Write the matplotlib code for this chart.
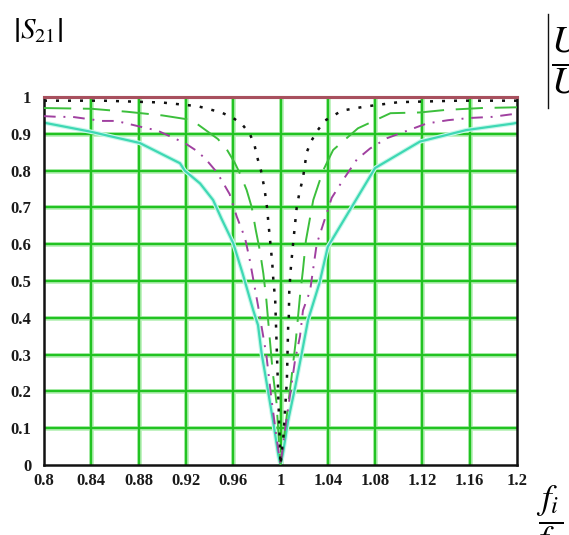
import matplotlib
matplotlib.use("Agg")
import matplotlib.pyplot as plt
from matplotlib.lines import Line2D

# ---- data ----
x_ticks = [0.8, 0.84, 0.88, 0.92, 0.96, 1.0, 1.04, 1.08, 1.12, 1.16, 1.2]
x_tick_labels = ["0.8", "0.84", "0.88", "0.92", "0.96", "1", "1.04", "1.08", "1.12", "1.16", "1.2"]
y_ticks = [0, 0.1, 0.2, 0.3, 0.4, 0.5, 0.6, 0.7, 0.8, 0.9, 1.0]
y_tick_labels = ["0", "0.1", "0.2", "0.3", "0.4", "0.5", "0.6", "0.7", "0.8", "0.9", "1"]

ref_f = [0.8, 1.2]
ref_v = [1.0, 1.0]

dotted_f = [0.80, 0.85, 0.90, 0.93, 0.95, 0.96, 0.968, 0.974, 0.978, 0.980, 0.9835, 0.9865,
            0.9886, 0.990, 0.9915, 0.993, 0.994, 0.9955, 0.996, 0.9965, 0.997, 0.998, 0.999,
            1.000, 1.0025, 1.0054, 1.0065, 1.0070, 1.0074, 1.0086, 1.0103, 1.0137, 1.016,
            1.019, 1.0222, 1.026, 1.0306, 1.0376, 1.052, 1.0715, 1.10, 1.15, 1.20]
dotted_v = [0.99, 0.99, 0.985, 0.975, 0.958, 0.943, 0.924, 0.90, 0.87, 0.84, 0.80, 0.75,
            0.70, 0.65, 0.60, 0.55, 0.50, 0.45, 0.40, 0.35, 0.30, 0.20, 0.10,
            0.0, 0.08, 0.23, 0.38, 0.40, 0.47, 0.53, 0.59, 0.70, 0.74,
            0.78, 0.85, 0.88, 0.906, 0.936, 0.963, 0.974, 0.986, 0.99, 0.99]

green_f = [0.80, 0.84, 0.87, 0.90, 0.92, 0.929, 0.947, 0.9545, 0.9615, 0.966, 0.9714, 0.9757,
           0.9790, 0.9827, 0.9855, 0.988, 0.991, 0.9935, 0.9966, 1.000, 1.004, 1.0094, 1.013,
           1.0165, 1.019, 1.0215, 1.0277, 1.036, 1.0445, 1.0655, 1.093, 1.118, 1.14, 1.17, 1.20]
green_v = [0.97, 0.968, 0.96, 0.95, 0.94, 0.928, 0.886, 0.858, 0.82, 0.79, 0.747, 0.70,
           0.64, 0.58, 0.52, 0.45, 0.34, 0.25, 0.17, 0.0, 0.10, 0.24, 0.34,
           0.46, 0.53, 0.61, 0.72, 0.80, 0.856, 0.915, 0.956, 0.958, 0.965, 0.97, 0.972]

purple_f = [0.80, 0.812, 0.824, 0.849, 0.861, 0.887, 0.895, 0.919, 0.928, 0.936, 0.945, 0.950,
            0.957, 0.963, 0.970, 0.974, 0.981, 0.988, 0.9925, 0.996, 1.000, 1.004, 1.0094,
            1.0123, 1.0165, 1.019, 1.025, 1.0306, 1.0433, 1.053, 1.0645, 1.0757, 1.09, 1.1236,
            1.1417, 1.16, 1.179, 1.20]
purple_v = [0.948, 0.946, 0.946, 0.935, 0.935, 0.915, 0.91, 0.875, 0.856, 0.834, 0.80, 0.775,
            0.736, 0.675, 0.617, 0.557, 0.433, 0.30, 0.176, 0.09, 0.0, 0.10, 0.22,
            0.285, 0.35, 0.42, 0.473, 0.60, 0.726, 0.775, 0.83, 0.86, 0.888, 0.928,
            0.937, 0.943, 0.946, 0.955]

cyan_f = [0.80, 0.802, 0.839, 0.881, 0.915, 0.919, 0.932, 0.943, 0.950, 0.960, 0.968, 0.977,
          0.981, 0.984, 0.989, 0.9937, 0.998, 1.000, 1.002, 1.0064, 1.0123, 1.018, 1.0233,
          1.033, 1.040, 1.060, 1.080, 1.118, 1.157, 1.197, 1.20]
cyan_v = [0.93, 0.929, 0.906, 0.875, 0.82, 0.80, 0.765, 0.72, 0.67, 0.603, 0.52, 0.42,
          0.38, 0.304, 0.21, 0.12, 0.03, 0.0, 0.03, 0.12, 0.21, 0.304, 0.394,
          0.495, 0.593, 0.70, 0.807, 0.879, 0.91, 0.928, 0.93]

# ---- figure ----
plt.rcParams["mathtext.fontset"] = "stix"
fig = plt.figure(figsize=(5.69, 5.35), dpi=100)
ax = fig.add_axes([44 / 569, 70 / 535, 473 / 569, 368 / 535])

grid_col = "#22c322"
for xv in x_ticks[1:-1]:
    ax.axvline(xv, color="#b8f0b8", lw=3.4, zorder=1)
    ax.axvline(xv, color=grid_col, lw=1.7, zorder=1.1)
for yv in y_ticks[1:-1]:
    ax.axhline(yv, color="#b8f0b8", lw=3.4, zorder=1)
    ax.axhline(yv, color=grid_col, lw=1.7, zorder=1.1)

red = "#a8505e"
ax.plot(ref_f, ref_v, color=red, lw=2.2, zorder=5, clip_on=False)

ax.plot(cyan_f, cyan_v, color="#c8f8ea", lw=3.2, zorder=2)
ax.plot(cyan_f, cyan_v, color="#3ed8b4", lw=1.6, zorder=2.1)
ax.plot(green_f, green_v, color="#3cbf3c", lw=1.4, ls=(0, (14, 6)), zorder=3)
ax.plot(purple_f, purple_v, color="#a040a0", lw=1.4, ls=(0, (6, 4, 1, 4)), zorder=3)
ax.plot(dotted_f, dotted_v, color="#111111", lw=1.8, ls=(0, (1.2, 3.6)), zorder=4)

ax.set_xlim(0.8, 1.2)
ax.set_ylim(0, 1)
ax.set_xticks(x_ticks)
ax.set_xticklabels(x_tick_labels)
ax.set_yticks(y_ticks)
ax.set_yticklabels(y_tick_labels)
ax.tick_params(length=0, labelsize=12, pad=6)
ax.tick_params(axis="y", pad=9)
for lab in ax.get_xticklabels() + ax.get_yticklabels():
    lab.set_fontfamily("Liberation Serif")
    lab.set_fontweight("bold")
    lab.set_color("#1a1a1a")

for side in ["left", "bottom", "right"]:
    ax.spines[side].set_color("#111111")
    ax.spines[side].set_linewidth(1.8)
ax.spines["top"].set_color(red)
ax.spines["top"].set_linewidth(2.2)

# axis titles (Mathcad style)
fig.text(13 / 569, 1 - 30 / 535, r"$\left|S_{21}\right|$", fontsize=21, va="center", ha="left")
fig.add_artist(Line2D([548 / 569, 548 / 569], [1 - 14 / 535, 1 - 108 / 535],
                      color="#111111", lw=1.0, transform=fig.transFigure))
fig.text(551 / 569, 1 - 63 / 535, r"$\dfrac{U_2}{U_1}$", fontsize=27, va="center", ha="left")
fig.text(533 / 569, 1 - 522 / 535, r"$\dfrac{f_i}{f_0}$", fontsize=25, va="center", ha="left")

fig.savefig("out.png", dpi=100)
